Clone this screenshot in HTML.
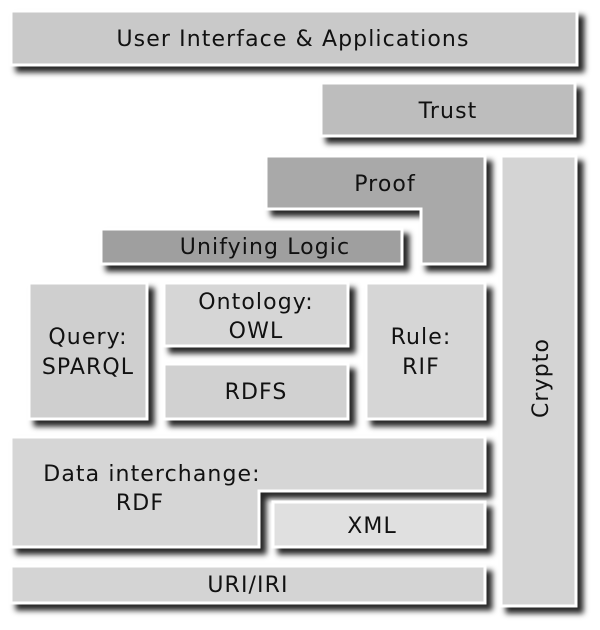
<!DOCTYPE html>
<html><head><style>
html,body{margin:0;padding:0;background:#fff}
svg{display:block}
text{font-family:"DejaVu Sans","Liberation Sans",sans-serif;font-size:22px;letter-spacing:1.1px;fill:#111;text-anchor:middle}
</style></head><body>
<svg width="600" height="630" viewBox="0 0 600 630">
<defs>
<filter id="s" x="-10%" y="-10%" width="130%" height="140%">
<feDropShadow dx="6" dy="6" stdDeviation="3" flood-color="#000" flood-opacity="0.85"/>
</filter>
</defs>
<g stroke="#fff" stroke-width="3" filter="url(#s)">
<rect x="11" y="11" width="566" height="54" fill="#c9c9c9"/>
<rect x="321" y="83" width="254" height="53" fill="#bdbdbd"/>
<path d="M266 156H485V264H421V209H266Z" fill="#a9a9a9"/>
<rect x="501" y="156" width="75" height="450" fill="#d4d4d4"/>
<rect x="101" y="229" width="301" height="35" fill="#9f9f9f"/>
<rect x="29" y="283" width="118" height="136" fill="#cfcfcf"/>
<rect x="164" y="283" width="184" height="63" fill="#d6d6d6"/>
<rect x="164" y="364" width="184" height="55" fill="#d1d1d1"/>
<rect x="366" y="283" width="119" height="136" fill="#d6d6d6"/>
<path d="M11 437H485V491H259V547H11Z" fill="#d6d6d6"/>
<rect x="273" y="502" width="212" height="45" fill="#e0e0e0"/>
<rect x="11" y="566" width="474" height="37" fill="#d4d4d4"/>
</g>
<text x="293" y="46">User Interface &amp; Applications</text>
<text x="448" y="118">Trust</text>
<text x="385" y="191">Proof</text>
<text x="265" y="254">Unifying Logic</text>
<text x="88" y="344">Query:</text>
<text x="88" y="374">SPARQL</text>
<text x="256" y="309">Ontology:</text>
<text x="256" y="338">OWL</text>
<text x="256" y="399">RDFS</text>
<text x="421" y="344">Rule:</text>
<text x="421" y="374">RIF</text>
<text x="152" y="481">Data interchange:</text>
<text x="140" y="510">RDF</text>
<text x="372" y="533">XML</text>
<text x="248" y="592">URI/IRI</text>
<text x="0" y="0" transform="translate(548,378) rotate(-90)">Crypto</text>
</svg>
</body></html>
